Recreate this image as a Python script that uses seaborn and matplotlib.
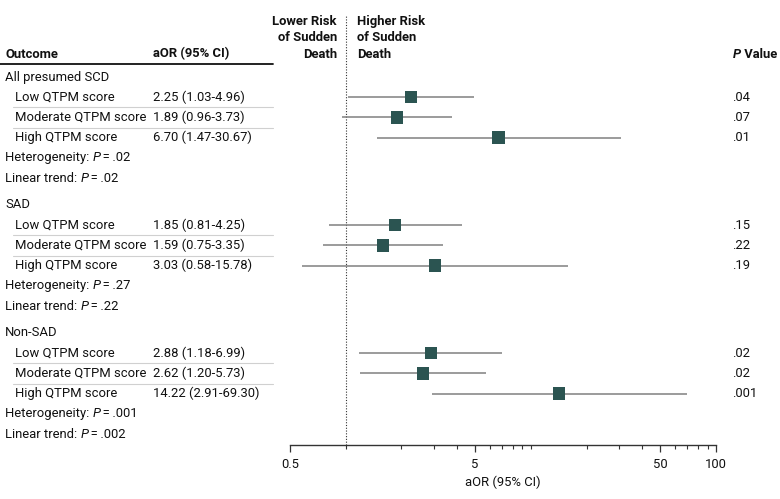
import matplotlib
matplotlib.use("Agg")
import matplotlib.pyplot as plt
import seaborn as sns
import numpy as np
import pandas as pd
from matplotlib.ticker import FixedLocator, NullFormatter

sns.set_style("white")
plt.rcParams['font.family'] = ['Roboto', 'DejaVu Sans']
fs = 9.4

# ---- data ----
groups = ["All presumed SCD", "SAD", "Non-SAD"]
levels = ["Low QTPM score", "Moderate QTPM score", "High QTPM score"]
aor = [2.25, 1.89, 6.70, 1.85, 1.59, 3.03, 2.88, 2.62, 14.22]
ci_lo = [1.03, 0.96, 1.47, 0.81, 0.75, 0.58, 1.18, 1.20, 2.91]
ci_hi = [4.96, 3.73, 30.67, 4.25, 3.35, 15.78, 6.99, 5.73, 69.30]
pvals = [".04", ".07", ".01", ".15", ".22", ".19", ".02", ".02", ".001"]
het_p = [".02", ".27", ".001"]
trend_p = [".02", ".22", ".002"]
tick_vals = [0.5, 5, 50, 100]
tick_labels = ["0.5", "5", "50", "100"]

W, H = 780, 499
fig = plt.figure(figsize=(W / 100, H / 100), dpi=100)
bg = fig.add_axes([0, 0, 1, 1])
bg.set_xlim(0, W)
bg.set_ylim(H, 0)
bg.axis("off")

axis_y = 445
x0, x1 = 290, 716
ax = fig.add_axes([x0 / W, (H - axis_y) / H, (x1 - x0) / W, axis_y / H])
ax.set_facecolor("none")

# row layout
row_h = 20.2
group_h = 128
top = 77
rows = []
for g, gname in enumerate(groups):
    base = top + g * group_h
    for k, lev in enumerate(levels):
        i = g * 3 + k
        rows.append(dict(group=gname, level=lev, y=base + (k + 1) * row_h,
                         aor=aor[i], lo=ci_lo[i], hi=ci_hi[i], p=pvals[i]))
df = pd.DataFrame(rows)

txt_col = "#111111"
mark_col = "#2b5451"

# CI lines
ax.hlines(df["y"], df["lo"], df["hi"], color="#808080", lw=1.1, zorder=1)
sns.scatterplot(data=df, x="aor", y="y", marker="s", s=80, color=mark_col,
                edgecolor="none", ax=ax, zorder=3, legend=False)
ax.set_xscale("log")
ax.set_xlim(0.5, 100)
ax.set_ylim(axis_y, 0)
ax.axvline(1, ymin=0, ymax=1 - 16 / axis_y, color="#333333", lw=0.8,
           ls=(0, (1, 1.5)), zorder=0)
for s in ["top", "right", "left"]:
    ax.spines[s].set_visible(False)
ax.spines["bottom"].set_color("#333333")
ax.spines["bottom"].set_linewidth(1.0)
ax.xaxis.set_major_locator(FixedLocator(tick_vals))
ax.set_xticklabels(tick_labels)
minor = [v for v in list(range(1, 10)) + list(range(10, 100, 10)) if v not in tick_vals]
ax.xaxis.set_minor_locator(FixedLocator(minor))
ax.xaxis.set_minor_formatter(NullFormatter())
ax.tick_params(axis="x", which="major", direction="out", length=5, width=0.9,
               color="#333333", labelsize=fs, pad=4, labelcolor=txt_col, bottom=True)
ax.tick_params(axis="x", which="minor", direction="out", length=3, width=0.8,
               color="#333333", bottom=True)
ax.set_yticks([])
ax.set_ylabel("")
ax.set_xlabel("aOR (95% CI)", fontsize=fs, color=txt_col, labelpad=4)

renderer = fig.canvas.get_renderer()


def rich(x, y, pieces, **kw):
    for s, style, weight in pieces:
        t = bg.text(x, y, s, fontstyle=style, fontweight=weight, va="center",
                    ha="left", fontsize=fs, color=txt_col, **kw)
        bb = t.get_window_extent(renderer)
        x += bb.width


# headers
hy = 54
bg.text(5, hy, "Outcome", fontweight="bold", fontsize=fs, va="center", color=txt_col)
bg.text(153, hy, "aOR (95% CI)", fontweight="bold", fontsize=fs, va="center", color=txt_col)
rich(733, hy, [("P", "italic", "bold"), (" Value", "normal", "bold")])
bg.plot([0, 273], [64, 64], color="#111111", lw=1.3)
for j, line in enumerate(["Lower Risk", "of Sudden", "Death"]):
    bg.text(337, 21 + j * 16.5, line, ha="right", va="center", fontweight="bold",
            fontsize=fs, color=txt_col)
for j, line in enumerate(["Higher Risk", "of Sudden", "Death"]):
    bg.text(357, 21 + j * 16.5, line, ha="left", va="center", fontweight="bold",
            fontsize=fs, color=txt_col)

# rows
for g, gname in enumerate(groups):
    base = top + g * group_h
    bg.text(5, base, gname, va="center", fontsize=fs, color=txt_col)
    sub = df[df["group"] == gname].reset_index(drop=True)
    for k, r in sub.iterrows():
        bg.text(15, r["y"], r["level"], va="center", fontsize=fs, color=txt_col)
        i = g * 3 + k
        bg.text(153, r["y"], f"{aor[i]:.2f} ({ci_lo[i]:.2f}-{ci_hi[i]:.2f})",
                va="center", fontsize=fs, color=txt_col)
        bg.text(732, r["y"], r["p"], va="center", fontsize=fs, color=txt_col)
        if k < 2:
            yy = r["y"] + row_h / 2
            bg.plot([13, 273], [yy, yy], color="#d0d0d0", lw=0.8)
    rich(5, base + 4 * row_h, [("Heterogeneity: ", "normal", "normal"),
                               ("P", "italic", "normal"),
                               ("\u2009=\u2009" + het_p[g], "normal", "normal")])
    rich(5, base + 5 * row_h, [("Linear trend: ", "normal", "normal"),
                               ("P", "italic", "normal"),
                               ("\u2009=\u2009" + trend_p[g], "normal", "normal")])

fig.savefig("out.png", dpi=100)
